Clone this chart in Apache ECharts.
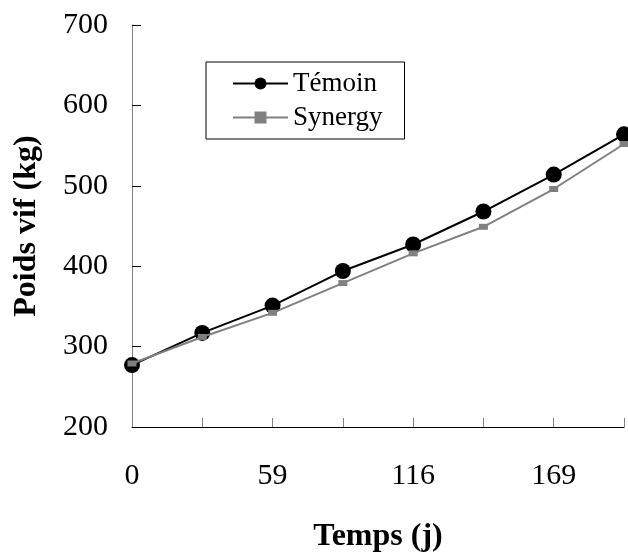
<!DOCTYPE html>
<html><head><meta charset="utf-8">
<script src="https://cdn.jsdelivr.net/npm/echarts@6/dist/echarts.min.js"></script>
<style>html,body{margin:0;padding:0;background:#fff}#c{width:628px;height:552px}</style>
</head><body><div id="c"></div>
<script>
const days = ['0','30','59','88','116','143','169','198'];
const temoin = [277, 317, 351, 394, 427, 468, 514, 564];
const synergy = [279, 312, 342, 379, 416, 449, 496, 552];
const yTicks = [200, 700, 100];
const serif = '"Liberation Serif", "Times New Roman", serif';
const chart = echarts.init(document.getElementById('c'), null, {renderer:'canvas'});
chart.setOption({
  animation:false,
  backgroundColor:'#fff',
  grid:{left:132, right:4, top:25, bottom:125, containLabel:false, outerBoundsMode:'none'},
  legend:{
    orient:'vertical', left:206, top:62,
    padding:[8,22,8,26], itemGap:7, itemWidth:55, itemHeight:15,
    borderColor:'#000', borderWidth:1,
    textStyle:{fontFamily:serif, fontSize:27, lineHeight:27, color:'#000'},
    data:['Témoin','Synergy']
  },
  xAxis:{
    type:'category', data:days, boundaryGap:false,
    name:'Temps (j)', nameLocation:'middle', nameGap:94,
    nameTextStyle:{fontFamily:serif, fontSize:32, fontWeight:'bold', color:'#000'},
    axisLine:{lineStyle:{color:'#000', width:1}},
    axisTick:{inside:true, length:9, interval:0, lineStyle:{color:'#808080'}},
    axisLabel:{interval:1, margin:34, fontFamily:serif, fontSize:30, color:'#000'},
    splitLine:{show:false}
  },
  yAxis:{
    type:'value', min:yTicks[0], max:yTicks[1], interval:yTicks[2],
    name:'Poids vif (kg)', nameLocation:'middle', nameGap:89,
    nameTextStyle:{fontFamily:serif, fontSize:32, fontWeight:'bold', color:'#000'},
    axisLine:{show:true, lineStyle:{color:'#808080', width:1}},
    axisTick:{show:true, inside:true, length:9, lineStyle:{color:'#000'}},
    axisLabel:{margin:24, fontFamily:serif, fontSize:30, color:'#000'},
    splitLine:{show:false}
  },
  series:[
    {name:'Témoin', type:'line', data:temoin, symbol:'circle', symbolSize:16,
     itemStyle:{color:'#000'}, lineStyle:{color:'#000', width:2}, z:3},
    {name:'Synergy', type:'line', data:synergy, symbol:'rect', symbolSize:[9,6],
     itemStyle:{color:'#808080'}, lineStyle:{color:'#808080', width:2}, z:4}
  ]
});
</script></body></html>
